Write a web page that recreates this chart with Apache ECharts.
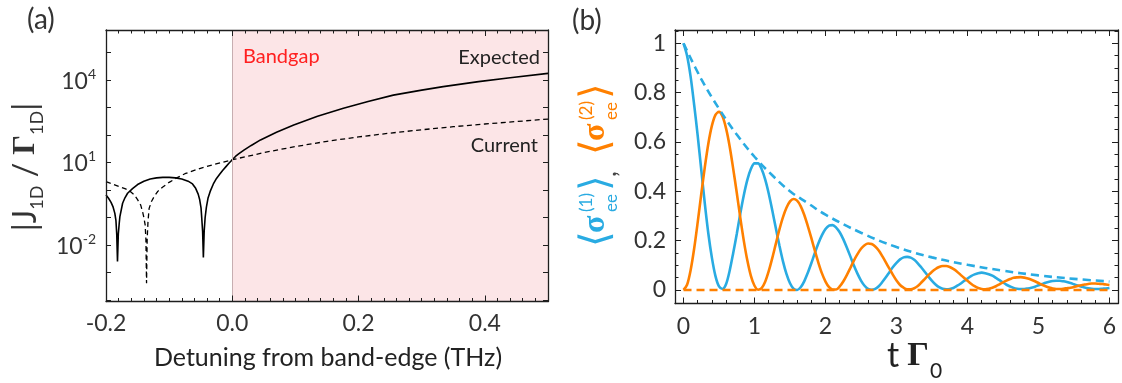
<!DOCTYPE html>
<html><head><meta charset="utf-8">
<script src="https://cdn.jsdelivr.net/npm/echarts@6/dist/echarts.min.js"></script>
<style>html,body{margin:0;padding:0;background:#fff}#c{width:1122px;height:383px}</style>
</head><body><div id="c"></div>
<script>
// ---------- Panel (a): |J_1D / Γ_1D| vs detuning ----------
const detuningExpected = [-0.200,-0.196,-0.192,-0.189,-0.186,-0.1843,-0.183,-0.1818,-0.1805,-0.179,-0.178,-0.1737,-0.170,-0.1658,-0.158,-0.150,-0.140,-0.130,-0.120,-0.110,-0.100,-0.090,-0.080,-0.070,-0.063,-0.058,-0.054,-0.0516,-0.0495,-0.0485,-0.047,-0.0458,-0.0445,-0.043,-0.041,-0.0385,-0.035,-0.030,-0.025,-0.020,-0.015,-0.010,-0.005,0,0.005,0.010,0.0184,0.030,0.0447,0.070,0.0973,0.135,0.176,0.215,0.255,0.300,0.334,0.390,0.440,0.500];
const ratioExpected = [0.66,0.50,0.355,0.25,0.141,0.079,0.025,0.0025,0.025,0.063,0.107,0.33,0.52,0.76,1.12,1.58,2.09,2.51,2.75,2.88,2.88,2.75,2.51,2.09,1.66,1.15,0.71,0.44,0.224,0.107,0.032,0.0035,0.032,0.1,0.24,0.50,0.89,1.66,2.63,3.72,5.25,7.08,9.55,12.6,16.6,20.4,28.2,41.7,66.1,126,229,479,933,1660,2820,4270,5750,8710,12000,17400];
const detuningCurrent = [-0.200,-0.190,-0.180,-0.170,-0.163,-0.160,-0.155,-0.150,-0.145,-0.1421,-0.140,-0.138,-0.1368,-0.1358,-0.1348,-0.1335,-0.1317,-0.128,-0.1238,-0.118,-0.1106,-0.100,-0.0895,-0.075,-0.058,-0.045,-0.0316,-0.015,0,0.05,0.10,0.15,0.20,0.25,0.30,0.35,0.40,0.45,0.50];
const ratioCurrent = [2.0,1.66,1.35,1.12,0.95,0.83,0.66,0.447,0.28,0.162,0.10,0.054,0.016,0.00041,0.016,0.071,0.214,0.38,0.575,0.89,1.26,1.9,2.63,3.9,5.37,6.76,8.13,10.2,12.6,22.9,38,58.9,85.1,117,155,200,251,309,380];
const bandgapRange = [0, 0.5];
const aXTickLabels = [-0.2, 0.0, 0.2, 0.4];
const aYTickExponents = [-2, 1, 4];

// ---------- Panel (b): populations vs t Γ0 ----------
const timeSolid = [0,0.05,0.1,0.15,0.2,0.25,0.3,0.35,0.4,0.45,0.5,0.55,0.6,0.65,0.7,0.75,0.8,0.85,0.9,0.95,
  1,1.05,1.1,1.15,1.2,1.25,1.3,1.35,1.4,1.45,1.5,1.55,1.6,1.65,1.7,1.75,1.8,1.85,1.9,1.95,
  2,2.05,2.1,2.15,2.2,2.25,2.3,2.35,2.4,2.45,2.5,2.55,2.6,2.65,2.7,2.75,2.8,2.85,2.9,2.95,
  3,3.05,3.1,3.15,3.2,3.25,3.3,3.35,3.4,3.45,3.5,3.55,3.6,3.65,3.7,3.75,3.8,3.85,3.9,3.95,
  4,4.05,4.1,4.15,4.2,4.25,4.3,4.35,4.4,4.45,4.5,4.55,4.6,4.65,4.7,4.75,4.8,4.85,4.9,4.95,
  5,5.05,5.1,5.15,5.2,5.25,5.3,5.35,5.4,5.45,5.5,5.55,5.6,5.65,5.7,5.75,5.8,5.85,5.9,5.95,6];
const sigma1 = [1.000,0.950,0.865,0.750,0.625,0.487,0.350,0.228,0.130,0.056,0.014,0.004,0.024,0.078,0.150,0.227,0.310,0.385,0.447,0.491,
  0.513,0.513,0.490,0.448,0.391,0.323,0.251,0.181,0.117,0.065,0.027,0.005,0.000,0.011,0.035,0.069,0.108,0.150,0.189,0.222,
  0.247,0.261,0.263,0.253,0.234,0.206,0.172,0.136,0.099,0.066,0.038,0.017,0.004,0.001,0.004,0.015,0.032,0.051,0.072,0.093,
  0.110,0.124,0.132,0.134,0.131,0.122,0.108,0.091,0.073,0.054,0.037,0.022,0.011,0.005,0.003,0.004,0.008,0.016,0.025,0.036,
  0.046,0.056,0.063,0.068,0.070,0.068,0.064,0.058,0.049,0.040,0.030,0.021,0.014,0.008,0.005,0.004,0.004,0.006,0.009,0.013,
  0.019,0.024,0.029,0.033,0.036,0.037,0.037,0.035,0.032,0.028,0.023,0.018,0.014,0.010,0.007,0.005,0.004,0.004,0.005,0.006,0.008];
const sigma2 = [0.000,0.021,0.080,0.168,0.275,0.389,0.498,0.594,0.666,0.710,0.722,0.703,0.654,0.582,0.491,0.394,0.292,0.198,0.118,0.056,
  0.017,0.001,0.007,0.033,0.076,0.129,0.187,0.244,0.294,0.333,0.359,0.369,0.362,0.340,0.305,0.260,0.211,0.159,0.110,0.067,
  0.034,0.011,0.002,0.002,0.014,0.034,0.060,0.089,0.119,0.145,0.167,0.181,0.188,0.186,0.176,0.160,0.137,0.112,0.086,0.061,
  0.038,0.020,0.009,0.003,0.003,0.007,0.016,0.030,0.045,0.060,0.074,0.085,0.093,0.097,0.097,0.093,0.085,0.075,0.062,0.049,
  0.037,0.025,0.015,0.008,0.004,0.003,0.005,0.009,0.015,0.023,0.031,0.038,0.044,0.049,0.051,0.052,0.050,0.046,0.041,0.035,
  0.028,0.021,0.015,0.010,0.006,0.004,0.004,0.005,0.007,0.009,0.012,0.016,0.019,0.022,0.024,0.026,0.026,0.025,0.024,0.022,0.020];
const timeEnvelope = [0,0.25,0.5,0.75,1,1.25,1.5,1.75,2,2.5,3,3.5,4,4.5,5,5.5,6];
const envelope1 = [1.0,0.855,0.735,0.63,0.54,0.465,0.40,0.352,0.305,0.232,0.174,0.132,0.102,0.078,0.059,0.045,0.034];
const timeBaseline = [0, 6];
const baseline2 = [0, 0];
const bXTickLabels = [0, 1, 2, 3, 4, 5, 6];
const bYTickLabels = [0, 0.2, 0.4, 0.6, 0.8, 1];

// ---------- styling ----------
const FONT = 'Lato, "Open Sans", sans-serif';
const FRAME = '#1e1e1e';
const LABEL = '#333333';
const BLUE = '#29abe2';
const ORANGE = '#ff8000';

function range(a, b, step, skip) {
  const out = [];
  for (let i = 0; a + i * step <= b + 1e-9; i++) {
    const v = +(a + i * step).toFixed(4);
    if (!skip || !skip.some(s => Math.abs(s - v) < 1e-6)) out.push(v);
  }
  return out;
}
function frameAxis(o) {
  const base = {
    type: 'value', z: 5, splitLine: { show: false }, minorTick: { show: false },
    axisLine: { show: !!o.line, onZero: false, lineStyle: { color: FRAME, width: 1.3 } },
    axisTick: { show: !!o.ticks, inside: true, length: o.len || 6, customValues: o.ticks, lineStyle: { color: FRAME, width: 1 } },
    axisLabel: { show: false }
  };
  return Object.assign(base, o.extra);
}

// panel (a) axes
const aMin = -0.2, aMax = 0.5, aYMin = -4.055, aYMax = 5.818;
const aXMinor = range(-0.2, 0.5, 0.02, aXTickLabels);
const aYTicks = range(-4, 5, 1);
// panel (b) axes
const bMin = -0.12, bMax = 6.12, bYMin = -0.055, bYMax = 1.054;
const bXMinor = range(0, 6, 0.2, bXTickLabels);
const bYMinor = range(0, 1.05, 0.05, bYTickLabels);

const xAxes = [
  frameAxis({ line: true, ticks: aXTickLabels, len: 6, extra: { gridIndex: 0, position: 'bottom', min: aMin, max: aMax, interval: 0.1,
    axisLabel: { show: true, customValues: aXTickLabels, formatter: v => v.toFixed(1), margin: 11, fontSize: 23, color: LABEL, fontFamily: FONT } } }),
  frameAxis({ ticks: aXMinor, len: 3.5, extra: { gridIndex: 0, position: 'bottom', min: aMin, max: aMax, interval: 0.1 } }),
  frameAxis({ line: true, ticks: aXTickLabels, len: 6, extra: { gridIndex: 0, position: 'top', min: aMin, max: aMax, interval: 0.1 } }),
  frameAxis({ ticks: aXMinor, len: 3.5, extra: { gridIndex: 0, position: 'top', min: aMin, max: aMax, interval: 0.1 } }),
  frameAxis({ line: true, ticks: bXTickLabels, len: 6, extra: { gridIndex: 1, position: 'bottom', min: bMin, max: bMax,
    axisLabel: { show: true, customValues: bXTickLabels, formatter: v => String(v), margin: 12, fontSize: 23, color: LABEL, fontFamily: FONT } } }),
  frameAxis({ ticks: bXMinor, len: 3.5, extra: { gridIndex: 1, position: 'bottom', min: bMin, max: bMax } }),
  frameAxis({ line: true, ticks: bXTickLabels, len: 6, extra: { gridIndex: 1, position: 'top', min: bMin, max: bMax } }),
  frameAxis({ ticks: bXMinor, len: 3.5, extra: { gridIndex: 1, position: 'top', min: bMin, max: bMax } })
];
const yAxes = [
  frameAxis({ line: true, ticks: aYTicks, len: 5, extra: { gridIndex: 0, position: 'left', min: aYMin, max: aYMax,
    axisLabel: { show: true, customValues: aYTickExponents, margin: 10, color: LABEL, fontFamily: FONT,
      formatter: v => '{b|10}{p|' + Math.round(v) + '}',
      rich: { b: { fontSize: 23, lineHeight: 26, padding: [4, 0, 0, 0], verticalAlign: 'bottom', color: LABEL, fontFamily: FONT },
              p: { fontSize: 14, lineHeight: 14, verticalAlign: 'top', color: LABEL, fontFamily: FONT } } } } }),
  frameAxis({ line: true, ticks: aYTicks, len: 5, extra: { gridIndex: 0, position: 'right', min: aYMin, max: aYMax } }),
  frameAxis({ line: true, ticks: bYTickLabels, len: 6, extra: { gridIndex: 1, position: 'left', min: bYMin, max: bYMax,
    axisLabel: { show: true, customValues: bYTickLabels, margin: 9, fontSize: 23, color: LABEL, fontFamily: FONT,
      formatter: v => (v === 0 || v === 1) ? String(v) : v.toFixed(1) } } }),
  frameAxis({ ticks: bYMinor, len: 3.5, extra: { gridIndex: 1, position: 'left', min: bYMin, max: bYMax } }),
  frameAxis({ line: true, ticks: bYTickLabels, len: 6, extra: { gridIndex: 1, position: 'right', min: bYMin, max: bYMax } }),
  frameAxis({ ticks: bYMinor, len: 3.5, extra: { gridIndex: 1, position: 'right', min: bYMin, max: bYMax } })
];

const zip = (xs, ys, f) => xs.map((x, i) => [x, f ? f(ys[i]) : ys[i]]);
const lg = v => Math.log10(v);

const series = [
  { type: 'line', name: 'Current', xAxisIndex: 0, yAxisIndex: 0, data: zip(detuningCurrent, ratioCurrent, lg),
    showSymbol: false, symbol: 'none', lineStyle: { color: '#000', width: 1.3, type: [5, 3.5] }, z: 3, silent: true },
  { type: 'line', name: 'Expected', xAxisIndex: 0, yAxisIndex: 0, data: zip(detuningExpected, ratioExpected, lg),
    showSymbol: false, symbol: 'none', lineStyle: { color: '#000', width: 1.6 }, z: 3, silent: true,
    markArea: { silent: true, itemStyle: { color: '#fce5e7' }, data: [[{ xAxis: bandgapRange[0] }, { xAxis: bandgapRange[1] }]], z: 1 },
    markLine: { silent: true, symbol: 'none', label: { show: false }, lineStyle: { color: '#c7aeb1', width: 1, type: 'solid' }, data: [{ xAxis: bandgapRange[0] }] } },
  { type: 'line', name: 'sigma1', xAxisIndex: 4, yAxisIndex: 2, data: zip(timeSolid, sigma1), smooth: 0.3,
    showSymbol: false, symbol: 'none', lineStyle: { color: BLUE, width: 2.6 }, silent: true },
  { type: 'line', name: 'sigma2', xAxisIndex: 4, yAxisIndex: 2, data: zip(timeSolid, sigma2), smooth: 0.3,
    showSymbol: false, symbol: 'none', lineStyle: { color: ORANGE, width: 2.6 }, silent: true },
  { type: 'line', name: 'envelope1', xAxisIndex: 4, yAxisIndex: 2, data: zip(timeEnvelope, envelope1), smooth: 0.4,
    showSymbol: false, symbol: 'none', lineStyle: { color: BLUE, width: 2.6, type: [8, 5] }, silent: true },
  { type: 'line', name: 'baseline2', xAxisIndex: 4, yAxisIndex: 2, data: zip(timeBaseline, baseline2),
    showSymbol: false, symbol: 'none', lineStyle: { color: ORANGE, width: 2.6, type: [8, 5] }, silent: true }
];

function txt(x, y, text, o) {
  o = o || {};
  return { type: 'text', x: x, y: y, rotation: o.rot || 0, z: 10, silent: true,
    style: { text: text, fontSize: o.fs || 20, fontFamily: o.ff || FONT, fontWeight: o.fw || 'normal', fill: o.c || '#222',
      align: o.al || 'left', textAlign: o.al || 'left', verticalAlign: 'middle', textVerticalAlign: 'middle', rich: o.rich } };
}
const SERIF = '"Liberation Serif", "DejaVu Serif", serif';
const BR = '"DejaVu Sans", sans-serif';
function sigmaGroup(lx0, color, sup) {
  return [
    txt(lx0, 0, '⟨', { fs: 40, ff: BR, c: color }),
    txt(lx0 + 14, -2, 'σ', { fs: 32, ff: SERIF, fw: 'bold', c: color }),
    txt(lx0 + 35, -11, sup, { fs: 17, c: color }),
    txt(lx0 + 35, 14, 'ee', { fs: 17, c: color }),
    txt(lx0 + 56, 0, '⟩', { fs: 40, ff: BR, c: color })
  ];
}

const graphic = [
  txt(27, 20, '(a)', { fs: 28, c: '#333' }),
  txt(572, 21, '(b)', { fs: 28, c: '#333' }),
  txt(243, 57, 'Bandgap', { fs: 20, c: '#ff2020' }),
  txt(540, 58, 'Expected', { fs: 20, al: 'right' }),
  txt(538, 146, 'Current', { fs: 20, al: 'right' }),
  txt(328, 358, 'Detuning from band-edge (THz)', { fs: 25, al: 'center' }),
  txt(893, 356, 't', { fs: 34, al: 'center' }),
  txt(918, 356, 'Γ', { fs: 34, ff: SERIF, fw: 'bold', al: 'center' }),
  txt(936, 371, '0', { fs: 21, al: 'center' }),
  txt(26, 167, '{n||J}{s|1D}{n| / }{g|Γ}{s|1D}{n||}', { rot: Math.PI / 2, al: 'center', c: '#333',
    rich: { n: { fontSize: 32, lineHeight: 40, fontFamily: FONT, color: '#333' },
            g: { fontSize: 31, lineHeight: 40, fontFamily: SERIF, fontWeight: 'bold', color: '#333' },
            s: { fontSize: 18, lineHeight: 18, verticalAlign: 'bottom', fontFamily: FONT, color: '#333' } } }),
  { type: 'group', x: 598, y: 247, rotation: Math.PI / 2, silent: true,
    children: [].concat(sigmaGroup(0, BLUE, '(1)'), [txt(70, 10, ',', { fs: 26, c: '#444' })], sigmaGroup(92, ORANGE, '(2)')) }
];

const chart = echarts.init(document.getElementById('c'), null, { renderer: 'canvas' });
chart.setOption({
  animation: false,
  backgroundColor: '#ffffff',
  grid: [
    { left: 106, top: 30, width: 442, height: 271.5, containLabel: false },
    { left: 675, top: 30, width: 443, height: 273.5, containLabel: false }
  ],
  xAxis: xAxes,
  yAxis: yAxes,
  series: series,
  graphic: graphic
});
</script></body></html>
